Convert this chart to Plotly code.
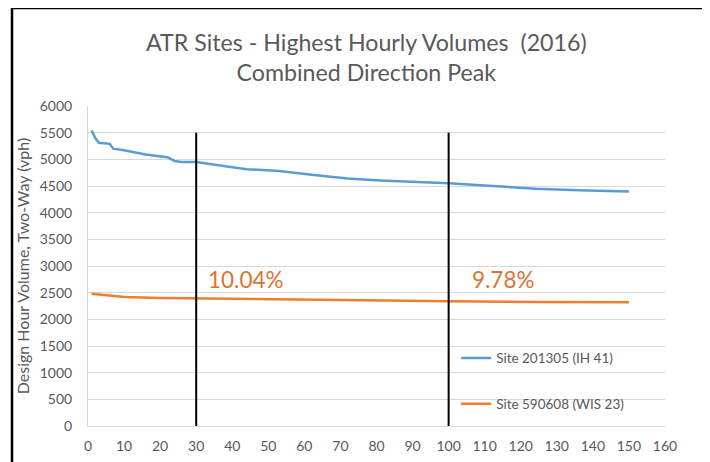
import plotly.graph_objects as go

# ---- data ----
site1_name = "Site 201305 (IH 41)"
site1_hours = [1, 2, 3, 6, 7, 10, 16, 22, 24, 26, 30, 35, 40, 44, 53, 62, 70, 72, 81, 90, 100, 110, 124, 136, 150]
site1_vph = [5540, 5400, 5310, 5290, 5200, 5170, 5090, 5040, 4970, 4950, 4950, 4895, 4850, 4815, 4780,
             4710, 4660, 4640, 4605, 4580, 4550, 4510, 4450, 4420, 4395]

site2_name = "Site 590608 (WIS 23)"
site2_hours = [1, 5, 10, 20, 30, 50, 75, 100, 125, 150]
site2_vph = [2480, 2450, 2420, 2400, 2392, 2372, 2355, 2338, 2327, 2320]

ref_hours = [30, 100]
ref_top = 5500
ref_labels = ["10.04%", "9.78%"]

x_ticks = list(range(0, 161, 10))
y_ticks = list(range(0, 6001, 500))

title_lines = ["ATR Sites - Highest Hourly Volumes\u00a0 (2016)", "Combined Direction Peak"]
y_title = "Design Hour Volume, Two-Way (vph)"

BLUE = "#5B9BD5"
ORANGE = "#ED7D31"
GREY = "#595959"
FONT = "Lato"

fig = go.Figure()

fig.add_trace(go.Scatter(x=site1_hours, y=site1_vph, mode="lines", name=site1_name,
                         line=dict(color=BLUE, width=2.5), legendgroup="a"))
fig.add_trace(go.Scatter(x=site2_hours, y=site2_vph, mode="lines", name=site2_name,
                         line=dict(color=ORANGE, width=2.5), legendgroup="b"))

# white box behind legend, hiding gridlines (between grid and traces)
fig.add_shape(type="rect", xref="paper", yref="paper", x0=0.605, x1=1.0, y0=0.005, y1=0.30,
              fillcolor="white", line=dict(width=0), layer="between")

# reference lines
for h in ref_hours:
    fig.add_shape(type="line", xref="x", yref="y", x0=h, x1=h, y0=0, y1=ref_top,
                  line=dict(color="black", width=2), layer="above")

# percentage labels
label_x = [43.8, 115.1]
for lx, txt in zip(label_x, ref_labels):
    fig.add_annotation(x=lx, y=2740, xref="x", yref="y", text=txt, showarrow=False,
                       font=dict(family=FONT, size=22.5, color="#DC7433"))

# title
fig.add_annotation(x=0.482, y=1.152, xref="paper", yref="paper", showarrow=False,
                   xanchor="center", yanchor="middle",
                   text="<br>".join(title_lines), align="center",
                   font=dict(family=FONT, size=23.2, color=GREY))

# outer frame
fig.add_shape(type="rect", xref="paper", yref="paper", x0=-0.1317, x1=1.069, y0=-0.3, y1=1.306,
              line=dict(color="black", width=2.5), fillcolor="rgba(0,0,0,0)", layer="above")

fig.update_xaxes(range=[0, 160], tickvals=x_ticks, showgrid=False, zeroline=False,
                 showline=True, linecolor="#D9D9D9", linewidth=1,
                 tickfont=dict(family=FONT, size=14, color=GREY), ticklabelstandoff=7)
fig.update_yaxes(range=[0, 6000], tickvals=y_ticks, showgrid=True, gridcolor="#D9D9D9", gridwidth=1,
                 zeroline=False, showline=True, linecolor="#D9D9D9", linewidth=1,
                 tickfont=dict(family=FONT, size=14, color=GREY), ticklabelstandoff=12,
                 title=dict(text=y_title, font=dict(family=FONT, size=16, color=GREY), standoff=6))

fig.update_layout(
    width=702, height=454,
    margin=dict(l=80, r=45, t=98, b=36, autoexpand=False),
    paper_bgcolor="white", plot_bgcolor="white",
    showlegend=True,
    legend=dict(x=0.638, y=0.26, xanchor="left", yanchor="top", bgcolor="rgba(0,0,0,0)",
                font=dict(family=FONT, size=13.5, color=GREY), tracegroupgap=25,
                itemwidth=30),
)

fig.write_html("out.html")
